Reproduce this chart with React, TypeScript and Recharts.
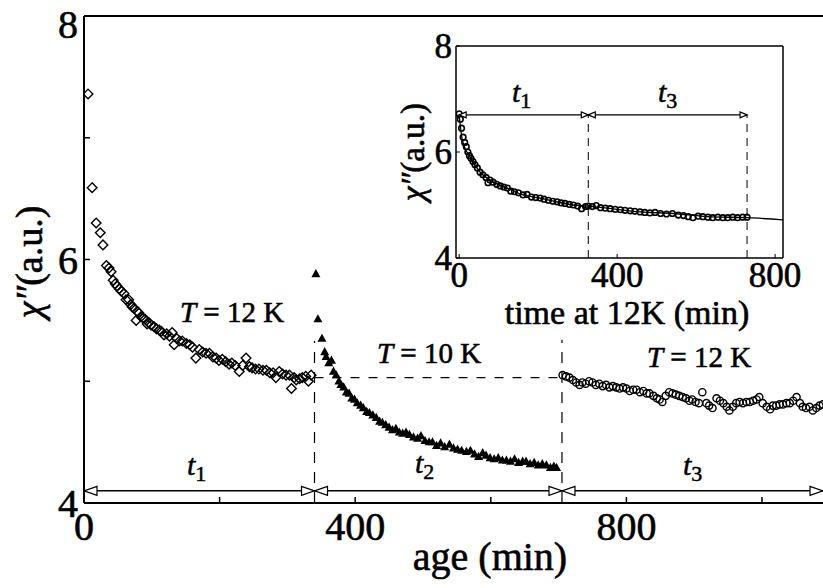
import { ComposedChart, Scatter, Line, XAxis, YAxis, ReferenceLine } from 'recharts'

// age (min), chi'' (a.u.) — first stage at 12K
const stage12a = [
  [6, 7.36], [12, 6.59], [18, 6.3], [24, 6.22], [28, 6.12], [33, 5.95], [37, 5.93], [40, 5.9],
  [43, 5.83], [46, 5.8], [49, 5.78], [52, 5.76], [55, 5.74], [59, 5.72], [62, 5.67], [66, 5.67],
  [69, 5.63], [71, 5.61], [74, 5.6], [77, 5.5], [79, 5.57], [81, 5.56], [84, 5.53], [87, 5.52],
  [90, 5.51], [93, 5.47], [96, 5.48], [99, 5.46], [103, 5.45], [107, 5.43], [111, 5.42], [114, 5.41],
  [118, 5.38], [122, 5.39], [126, 5.37], [130, 5.4], [133, 5.3], [137, 5.35], [141, 5.33], [145, 5.33],
  [151, 5.31], [156, 5.3], [160, 5.28], [165, 5.19], [170, 5.26], [175, 5.24], [180, 5.23], [185, 5.23],
  [190, 5.2], [195, 5.19], [199, 5.17], [204, 5.18], [209, 5.16], [214, 5.14], [218, 5.15], [223, 5.13],
  [229, 5.08], [234, 5.13], [239, 5.19], [244, 5.12], [248, 5.11], [253, 5.1], [258, 5.1], [264, 5.09],
  [269, 5.09], [274, 5.07], [279, 5.07], [283, 5.03], [288, 5.08], [293, 5.06], [298, 5.05], [303, 5.05],
  [306, 4.94], [310, 5.03], [313, 5.01], [318, 5.02], [322, 5.03], [327, 5.04], [331, 5.0], [335, 5.05],
]

// second stage at 10K
const stage10 = [
  [342, 5.88], [345, 5.51], [351, 5.35], [355, 5.24], [357, 5.2], [361, 5.15], [365, 5.17], [368, 5.08],
  [372, 5.05], [376, 5.0], [379, 4.97], [383, 4.95], [387, 4.91], [391, 4.9], [395, 4.86], [399, 4.85],
  [403, 4.82], [408, 4.8], [412, 4.78], [417, 4.75], [421, 4.74], [426, 4.72], [431, 4.7], [436, 4.67],
  [440, 4.66], [445, 4.64], [450, 4.62], [455, 4.6], [460, 4.61], [465, 4.58], [470, 4.57], [475, 4.58],
  [480, 4.56], [486, 4.54], [492, 4.53], [497, 4.55], [503, 4.51], [509, 4.5], [514, 4.5], [520, 4.47],
  [526, 4.49], [532, 4.46], [539, 4.48], [545, 4.45], [551, 4.44], [557, 4.43], [564, 4.42], [570, 4.43],
  [576, 4.4], [582, 4.38], [588, 4.41], [593, 4.39], [599, 4.37], [605, 4.36], [611, 4.37], [617, 4.35],
  [623, 4.35], [629, 4.34], [635, 4.36], [641, 4.33], [647, 4.34], [652, 4.34], [658, 4.32], [664, 4.33],
  [670, 4.31], [676, 4.32], [682, 4.31], [688, 4.29], [693, 4.3], [697, 4.29],
]

// third stage, back at 12K
const stage12b = [
  [706, 5.05], [711, 5.04], [716, 5.03], [721, 5.01], [726, 4.99], [731, 4.97], [735, 4.99], [740, 4.98],
  [745, 5.0], [750, 4.99], [755, 4.97], [760, 4.98], [765, 4.96], [770, 4.97], [775, 4.95], [780, 4.96],
  [785, 4.95], [790, 4.94], [795, 4.95], [800, 4.94], [805, 4.92], [810, 4.93], [815, 4.93], [820, 4.91],
  [825, 4.92], [830, 4.9], [834, 4.9], [840, 4.88], [845, 4.86], [849, 4.85], [853, 4.83], [858, 4.88],
  [863, 4.91], [868, 4.9], [873, 4.89], [878, 4.88], [883, 4.87], [888, 4.86], [893, 4.84], [897, 4.85],
  [902, 4.83], [907, 4.82], [912, 4.91], [918, 4.82], [922, 4.8], [927, 4.78], [933, 4.86], [938, 4.84],
  [943, 4.82], [948, 4.79], [952, 4.76], [957, 4.79], [962, 4.82], [967, 4.83], [972, 4.82], [977, 4.83],
  [982, 4.83], [987, 4.84], [992, 4.85], [996, 4.87], [1001, 4.82], [1007, 4.79], [1012, 4.77], [1016, 4.8],
  [1021, 4.8], [1026, 4.81], [1031, 4.81], [1036, 4.82], [1041, 4.82], [1046, 4.84], [1051, 4.87], [1056, 4.82],
  [1060, 4.79], [1065, 4.78], [1070, 4.79], [1075, 4.76], [1080, 4.78], [1085, 4.8], [1090, 4.81],
]

// inset: time at 12K (min), stages 1 and 3 joined
const insetPoints = [
  [0, 6.72], [3, 6.62], [6, 6.45], [10, 6.28], [14, 6.18], [18, 6.1], [22, 6.0], [26, 5.93],
  [30, 5.88], [35, 5.82], [40, 5.76], [46, 5.7], [53, 5.62], [60, 5.57], [68, 5.52], [73, 5.42],
  [78, 5.47], [86, 5.43], [95, 5.39], [104, 5.36], [113, 5.34], [122, 5.32], [131, 5.26], [140, 5.25],
  [150, 5.23], [162, 5.19], [172, 5.2], [183, 5.15], [194, 5.14], [205, 5.13], [215, 5.11], [226, 5.09],
  [237, 5.07], [248, 5.06], [258, 5.04], [268, 5.03], [279, 5.01], [289, 5.0], [300, 4.98], [310, 4.93],
  [320, 4.97], [327, 4.98], [337, 4.97], [347, 4.99], [358, 4.95], [370, 4.94], [382, 4.93], [395, 4.92],
  [408, 4.91], [420, 4.9], [433, 4.89], [445, 4.88], [458, 4.87], [470, 4.86], [483, 4.85], [496, 4.86],
  [510, 4.84], [525, 4.83], [540, 4.84], [555, 4.81], [568, 4.8], [580, 4.78], [592, 4.76], [605, 4.79],
  [617, 4.78], [630, 4.77], [642, 4.76], [655, 4.77], [668, 4.76], [680, 4.76], [693, 4.77], [705, 4.76],
  [718, 4.77], [729, 4.77],
]

const insetFit = [
  [0, 6.7], [8, 6.23], [28, 5.9], [53, 5.62], [78, 5.47], [122, 5.32], [162, 5.19], [205, 5.13],
  [248, 5.06], [289, 5.0], [327, 4.98], [375, 4.94], [458, 4.87], [542, 4.84], [628, 4.78], [729, 4.76],
  [820, 4.72],
]

// interval arrows: [x, y, direction]
const mainArrows: [number, number, string][] = [
  [0, 4.1, 'left'], [340, 4.1, 'right'], [340, 4.1, 'left'], [705, 4.1, 'right'], [705, 4.1, 'left'], [1090, 4.1, 'right'],
]
const insetArrows: [number, number, string][] = [
  [0, 6.7, 'left'], [327, 6.7, 'right'], [327, 6.7, 'left'], [729, 6.7, 'right'],
]

const mainXTicks = [0, 200, 400, 600, 800, 1000]
const mainYTicks = [4, 5, 6, 7, 8]
const insetXTicks = [0, 400, 800]
const insetYTicks = [4, 6, 8]

const toXY = (rows: number[][]) => rows.map(([x, y]) => ({ x, y }))
const toArrows = (rows: [number, number, string][]) => rows.map(([x, y, dir]) => ({ x, y, dir }))

const FONT = '"Liberation Serif", "DejaVu Serif", serif'
const tickStyle = (size: number) => ({ fill: '#000', stroke: '#000', strokeWidth: 0.6, fontSize: size, fontFamily: FONT })

const Diamond = (p: any) => {
  const { cx, cy } = p
  const s = 4.8
  return <path d={`M${cx},${cy - s}L${cx + s},${cy}L${cx},${cy + s}L${cx - s},${cy}Z`} fill="none" stroke="#000" strokeWidth={1.4} />
}
const Tri = (p: any) => {
  const { cx, cy } = p
  return <path d={`M${cx},${cy - 5}L${cx + 4.5},${cy + 3.2}L${cx - 4.5},${cy + 3.2}Z`} fill="#000" />
}
const Ring = (p: any) => <circle cx={p.cx} cy={p.cy} r={3.6} fill="none" stroke="#000" strokeWidth={1.4} />
const SmallRing = (p: any) => <circle cx={p.cx} cy={p.cy} r={2.8} fill="none" stroke="#000" strokeWidth={1.6} />

const arrowShape = (len: number, half: number) => (p: any) => {
  const { cx, cy } = p
  const d = p.payload?.dir === 'left' ? 1 : -1
  return (
    <path
      d={`M${cx},${cy}L${cx + d * len},${cy - half}L${cx + d * len},${cy + half}Z`}
      fill="#fff"
      stroke="#000"
      strokeWidth={1.2}
    />
  )
}

function MainChart() {
  return (
    <ComposedChart width={823} height={588} margin={{ top: 15, right: 0, bottom: 0, left: 0 }}>
      <XAxis
        dataKey="x"
        type="number"
        domain={[0, 1090]}
        ticks={mainXTicks}
        tickFormatter={(v: number) => (v % 400 === 0 ? String(v) : '')}
        tickSize={-6}
        tickMargin={15}
        height={85}
        allowDataOverflow
        axisLine={{ stroke: '#000', strokeWidth: 2 }}
        tickLine={{ stroke: '#000', strokeWidth: 1.5 }}
        tick={tickStyle(40)}
      />
      <XAxis
        xAxisId="top"
        orientation="top"
        type="number"
        domain={[0, 1090]}
        ticks={mainXTicks}
        tickFormatter={() => ''}
        tickSize={-6}
        height={1}
        allowDataOverflow
        axisLine={{ stroke: '#000', strokeWidth: 2 }}
        tickLine={{ stroke: '#000', strokeWidth: 1.5 }}
      />
      <YAxis
        dataKey="y"
        type="number"
        domain={[4, 8]}
        ticks={mainYTicks}
        tickFormatter={(v: number) => (v % 2 === 0 ? String(v) : '')}
        tickSize={-6}
        tickMargin={12}
        width={84}
        allowDataOverflow
        axisLine={{ stroke: '#000', strokeWidth: 2 }}
        tickLine={{ stroke: '#000', strokeWidth: 1.5 }}
        tick={tickStyle(40)}
      />
      <ReferenceLine segment={[{ x: 0, y: 4.1 }, { x: 1090, y: 4.1 }]} stroke="#000" strokeWidth={1.5} />
      <ReferenceLine segment={[{ x: 340, y: 4 }, { x: 340, y: 5.33 }]} stroke="#000" strokeWidth={1.2} strokeDasharray="11 9" />
      <ReferenceLine segment={[{ x: 705, y: 4 }, { x: 705, y: 5.34 }]} stroke="#000" strokeWidth={1.2} strokeDasharray="11 9" />
      <ReferenceLine segment={[{ x: 340, y: 5.03 }, { x: 705, y: 5.03 }]} stroke="#000" strokeWidth={1.2} strokeDasharray="9 9" />
      <Scatter data={toXY(stage12a)} shape={Diamond} isAnimationActive={false} />
      <Scatter data={toXY(stage10)} shape={Tri} isAnimationActive={false} />
      <Scatter data={toXY(stage12b)} shape={Ring} isAnimationActive={false} />
      <Scatter data={toArrows(mainArrows)} shape={arrowShape(13, 4.5)} isAnimationActive={false} />
    </ComposedChart>
  )
}

function InsetChart() {
  return (
    <ComposedChart width={430} height={300} margin={{ top: 26, right: 27, bottom: 0, left: 0 }}>
      <XAxis
        dataKey="x"
        type="number"
        domain={[-8, 820]}
        ticks={insetXTicks}
        tickSize={-4}
        tickMargin={8}
        height={62}
        allowDataOverflow
        axisLine={{ stroke: '#000', strokeWidth: 1.5 }}
        tickLine={{ stroke: '#000' }}
        tick={tickStyle(35)}
      />
      <YAxis
        dataKey="y"
        type="number"
        domain={[4, 8]}
        ticks={insetYTicks}
        tickSize={-4}
        tickMargin={8}
        width={76}
        allowDataOverflow
        axisLine={{ stroke: '#000', strokeWidth: 1.5 }}
        tickLine={{ stroke: '#000' }}
        tick={tickStyle(35)}
      />
      <ReferenceLine y={8} stroke="#000" strokeWidth={1.5} />
      <ReferenceLine x={820} stroke="#000" strokeWidth={1.5} />
      <ReferenceLine segment={[{ x: 0, y: 6.7 }, { x: 729, y: 6.7 }]} stroke="#000" strokeWidth={1.2} />
      <ReferenceLine segment={[{ x: 327, y: 4 }, { x: 327, y: 6.7 }]} stroke="#000" strokeWidth={1} strokeDasharray="8 6" />
      <ReferenceLine segment={[{ x: 729, y: 4 }, { x: 729, y: 6.7 }]} stroke="#000" strokeWidth={1} strokeDasharray="8 6" />
      <Line data={toXY(insetFit)} dataKey="y" type="monotone" stroke="#000" strokeWidth={1.3} dot={false} isAnimationActive={false} />
      <Scatter data={toXY(insetPoints)} shape={SmallRing} isAnimationActive={false} />
      <Scatter data={toArrows(insetArrows)} shape={arrowShape(7, 3)} isAnimationActive={false} />
    </ComposedChart>
  )
}

const Sub = ({ x, y, s }: { x: number; y: number; s: string }) => (
  <text x={x} y={y} fontFamily={FONT} fontSize={30} fill="#000" stroke="#000" strokeWidth={0.5}>
    <tspan fontStyle="italic">t</tspan>
    <tspan fontSize={22} dy={6}>{s}</tspan>
  </text>
)

const Temp = ({ x, y, k }: { x: number; y: number; k: string }) => (
  <text x={x} y={y} fontFamily={FONT} fontSize={29} fill="#000" stroke="#000" strokeWidth={0.6} textAnchor="middle">
    <tspan fontStyle="italic">T</tspan>
    <tspan> = {k} K</tspan>
  </text>
)

export default function App() {
  return (
    <div style={{ position: 'absolute', left: 0, top: 0, width: 823, height: 588, overflow: 'hidden', background: '#fff' }}>
      <div style={{ position: 'absolute', left: 0, top: 0 }}>
        <MainChart />
      </div>
      <div style={{ position: 'absolute', left: 380, top: 20 }}>
        <InsetChart />
      </div>
      <svg width={823} height={588} style={{ position: 'absolute', left: 0, top: 0, pointerEvents: 'none' }}>
        <g fontFamily={FONT} fill="#000" stroke="#000" strokeWidth={0.6}>
          <text transform="translate(42,262) rotate(-90)" textAnchor="middle" fontSize={38}>
            <tspan fontStyle="italic">χ″</tspan>(a.u.)
          </text>
          <text transform="translate(424,152) rotate(-90)" textAnchor="middle" fontSize={33}>
            <tspan fontStyle="italic">χ″</tspan>(a.u.)
          </text>
          <text x={490} y={570} textAnchor="middle" fontSize={40}>age (min)</text>
          <text x={627} y={324} textAnchor="middle" fontSize={34}>time at 12K (min)</text>
        </g>
        <Temp x={232} y={322} k="12" />
        <Temp x={429} y={363} k="10" />
        <Temp x={699} y={367} k="12" />
        <Sub x={187} y={475} s="1" />
        <Sub x={415} y={473} s="2" />
        <Sub x={683} y={475} s="3" />
        <Sub x={512} y={102} s="1" />
        <Sub x={658} y={102} s="3" />
      </svg>
    </div>
  )
}
